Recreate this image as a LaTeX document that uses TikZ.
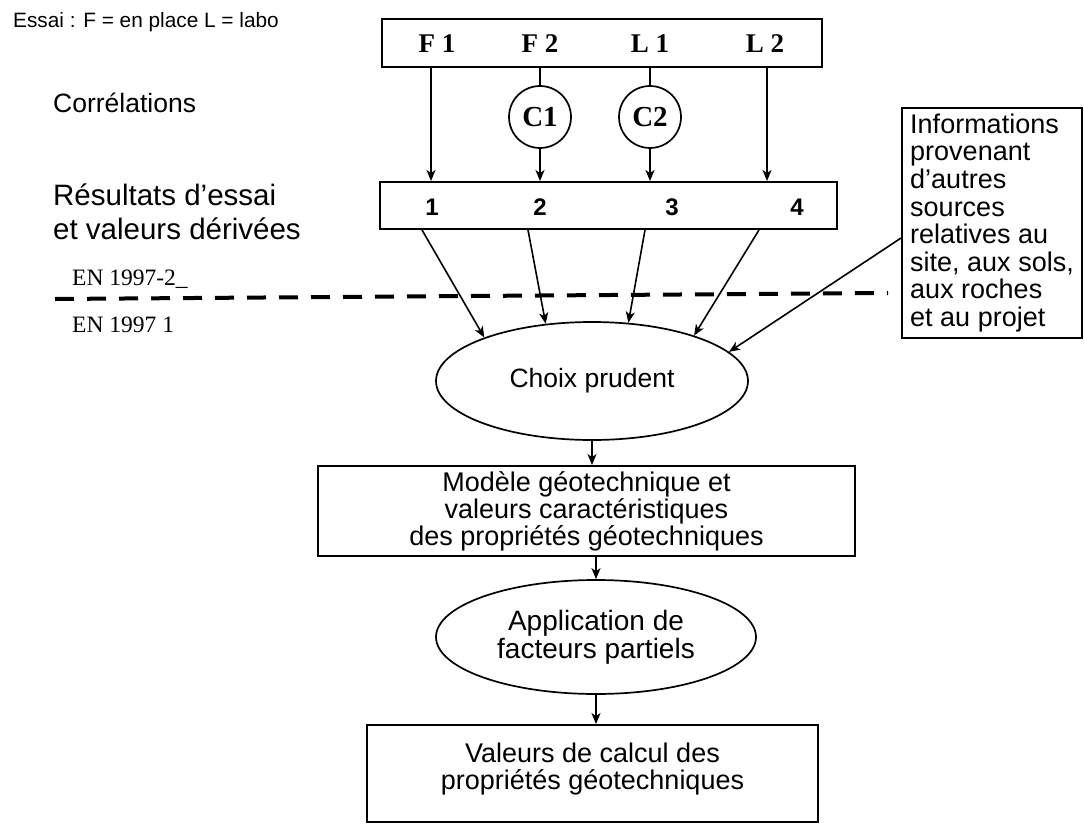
\documentclass[tikz,border=0pt]{standalone}
\usepackage{fontspec}
\setmainfont{Liberation Sans}
\newfontfamily\timesf{Liberation Serif}
\usetikzlibrary{shapes.geometric,arrows.meta,calc}

\begin{document}
\begin{tikzpicture}[x=1pt,y=-1pt,
  box/.style={draw,line width=1.9pt,rectangle,inner sep=0pt},
  oval/.style={draw,line width=1.7pt,ellipse,inner sep=0pt},
  circ/.style={draw,line width=1.7pt,circle,inner sep=0pt,minimum size=62pt,font=\timesf\bfseries\fontsize{29}{29}\selectfont},
  arr/.style={line width=1.6pt,-{Stealth[length=11pt,width=9pt,inset=3pt]}},
  ln/.style={line width=1.6pt},
  big/.style={font=\fontsize{27}{27}\selectfont},
  lbl/.style={font=\timesf\bfseries\fontsize{27}{27}\selectfont,inner sep=0pt},
  num/.style={font=\bfseries\fontsize{24}{24}\selectfont,inner sep=0pt},
  side/.style={anchor=west,inner sep=0pt,align=left}
]
\useasboundingbox (0,0) rectangle (1084,824);

% left labels
\node[side,font=\fontsize{20.8}{20.8}\selectfont] (essai) at (13,22) {Essai : F = en place L = labo};
\node[side,font=\fontsize{26.5}{26.5}\selectfont] (corr) at (53,103) {Corrélations};
\node[side,font=\fontsize{29.5}{34}\selectfont] (resl) at (53,212) {Résultats d'essai\\et valeurs dérivées};
\node[side,font=\timesf\fontsize{23.5}{23.5}\selectfont] (en2) at (72,279) {EN 1997-2\_};
\node[side,font=\timesf\fontsize{23.5}{23.5}\selectfont] (en1) at (72,325) {EN 1997 1};
\draw[line width=4pt,dash pattern=on 19pt off 13pt] (55,299) -- (888,293);

% top box
\node[box,minimum width=440pt,minimum height=48pt] (top) at (602,43) {};
\node[lbl] (f1) at (437,44) {F 1};
\node[lbl] (f2) at (540,44) {F 2};
\node[lbl] (l1) at (650,44) {L 1};
\node[lbl] (l2) at (765,44) {L 2};

% correlations
\node[circ] (c1) at (540,117) {C1};
\node[circ] (c2) at (650,117) {C2};

% results box
\node[box,minimum width=457pt,minimum height=47pt] (res) at (608.5,205.5) {};
\node[num] (n1) at (432,207) {1};
\node[num] (n2) at (540,207) {2};
\node[num] (n3) at (672,207) {3};
\node[num] (n4) at (797,207) {4};

\coordinate (xa) at (431,0);
\coordinate (xb) at (767,0);
\draw[arr] (top.south -| xa) -- (res.north -| xa);
\draw[ln] (top.south -| c1) -- (c1.north);
\draw[arr] (c1.south) -- (res.north -| c1);
\draw[ln] (top.south -| c2) -- (c2.north);
\draw[arr] (c2.south) -- (res.north -| c2);
\draw[arr] (top.south -| xb) -- (res.north -| xb);

% choix prudent
\node[oval,minimum width=312pt,minimum height=118pt,font=\fontsize{26.5}{26.5}\selectfont] (choix) at (592,381) {Choix prudent};

% info box
\node[box,minimum width=180pt,minimum height=230pt,align=left,font=\fontsize{27}{27.6}\selectfont] (info) at (992,223) {Informations\\provenant\\d'autres\\sources\\relatives au\\site, aux sols,\\aux roches\\et au projet};

\coordinate (s1) at (422,0);
\coordinate (s2) at (528,0);
\coordinate (s3) at (645,0);
\coordinate (s4) at (759,0);
\draw[arr] (res.south -| s1) -- (choix.158);
\draw[arr] (res.south -| s2) -- (choix.129);
\draw[arr] (res.south -| s3) -- (choix.58);
\draw[arr] (res.south -| s4) -- (choix.24);
\draw[arr] ($(info.west)+(0,15)$) -- (choix.12);

% model box
\node[box,minimum width=537pt,minimum height=90pt,big,align=center] (model) at (586.5,511) {Modèle géotechnique et\\valeurs caractéristiques\\des propriétés géotechniques};
\draw[arr] (choix.south) -- (model.north -| choix.south);

% application ellipse
\node[oval,minimum width=320pt,minimum height=114pt,align=center,font=\fontsize{28}{28}\selectfont] (app) at (596,637) {Application de\\facteurs partiels};
\draw[arr] (model.south -| app.north) -- (app.north);

% bottom box
\node[box,minimum width=451pt,minimum height=97pt,big,align=center,text depth=14pt] (valc) at (592.5,773.5) {Valeurs de calcul des\\propriétés géotechniques};
\draw[arr] (app.south) -- (valc.north -| app.south);
\end{tikzpicture}
\end{document}
